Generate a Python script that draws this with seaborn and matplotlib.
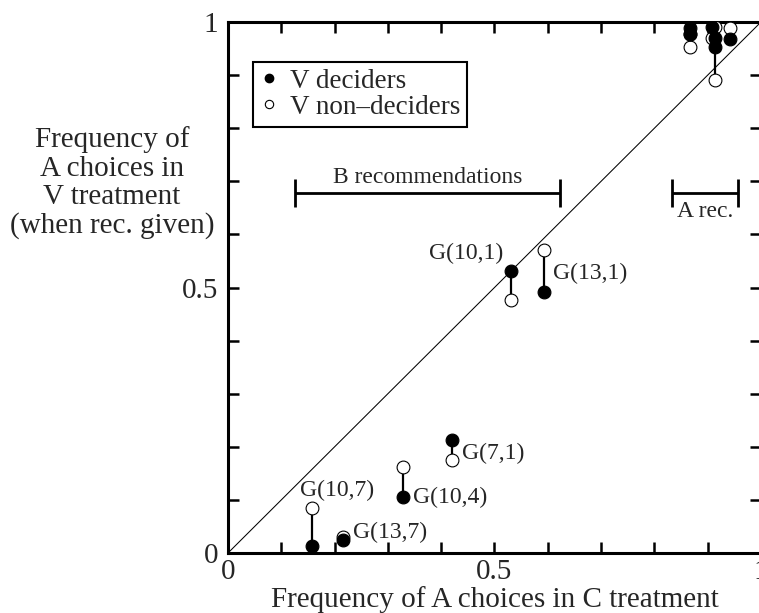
import numpy as np
import pandas as pd
import matplotlib
matplotlib.use("Agg")
import matplotlib.pyplot as plt
from matplotlib.lines import Line2D
from matplotlib.ticker import MultipleLocator
import seaborn as sns

# ---------------- data ----------------
groups = ["G(10,7)", "G(13,7)", "G(10,4)", "G(7,1)", "G(10,1)", "G(13,1)",
          "A1", "A2", "A3", "A4", "A5", "A6"]
c_freq = [0.157, 0.215, 0.328, 0.420, 0.531, 0.592,
          0.867, 0.867, 0.908, 0.914, 0.914, 0.942]
v_deciders = [0.014, 0.025, 0.106, 0.213, 0.531, 0.491,
              0.989, 0.977, 0.991, 0.970, 0.953, 0.968]
v_nondeciders = [0.084, 0.031, 0.162, 0.176, 0.476, 0.571,
                 0.953, 0.977, 0.970, 0.991, 0.891, 0.989]

rec_labels = ["B recommendations", "A rec."]
rec_lo = [0.126, 0.833]
rec_hi = [0.623, 0.957]
rec_level = [0.678, 0.678]

x_ticks = [0, 0.5, 1]
x_ticklabels = ["0", "0.5", "1"]
y_ticks = [0, 0.5, 1]
y_ticklabels = ["0", "0.5", "1"]

df = pd.DataFrame({"group": groups, "c": c_freq,
                   "dec": v_deciders, "non": v_nondeciders})

# ---------------- style ----------------
sns.set_style("ticks")
plt.rcParams["font.family"] = ["Liberation Serif", "DejaVu Serif"]

fig = plt.figure(figsize=(7.59, 6.13), dpi=100)
ax = fig.add_axes([228 / 759, 60 / 613, 533 / 759, 531 / 613])

# diagonal
ax.plot([0, 1], [0, 1], color="black", lw=0.75, zorder=1)

# connecting lines
ax.vlines(df["c"], df["dec"], df["non"], colors="black", lw=1.6, zorder=2)

# points
sns.scatterplot(data=df, x="c", y="non", ax=ax, s=85, color="white",
                edgecolor="black", linewidth=0.8, zorder=3, legend=False)
sns.scatterplot(data=df, x="c", y="dec", ax=ax, s=85, color="black",
                edgecolor="black", linewidth=0.8, zorder=4, legend=False)

# group labels (layout offsets)
label_layout = {
    "G(10,7)": (0.2045, 0.1186, "center"),
    "G(13,7)": (0.2345, 0.0395, "left"),
    "G(10,4)": (0.347, 0.1055, "left"),
    "G(7,1)": (0.439, 0.188, "left"),
    "G(10,1)": (0.516, 0.565, "right"),
    "G(13,1)": (0.610, 0.527, "left"),
}
for g in groups:
    if g in label_layout:
        lx, ly, ha = label_layout[g]
        ax.text(lx, ly, g, ha=ha, va="center", fontsize=17, zorder=5)

# recommendation ranges
centers = [(lo + hi) / 2 for lo, hi in zip(rec_lo, rec_hi)]
halfw = [(hi - lo) / 2 for lo, hi in zip(rec_lo, rec_hi)]
ax.errorbar(centers, rec_level, xerr=halfw, fmt="none", ecolor="black",
            elinewidth=2.0, capsize=10, capthick=2.0, zorder=2)
ax.text(centers[0], rec_level[0] + 0.019, rec_labels[0], ha="center",
        va="baseline", fontsize=17)
ax.text(centers[1], rec_level[1] - 0.045, rec_labels[1], ha="center",
        va="baseline", fontsize=17)

# axes
ax.set_xlim(0, 1)
ax.set_ylim(0, 1)
ax.set_xticks(x_ticks)
ax.set_xticklabels(x_ticklabels)
ax.set_yticks(y_ticks)
ax.set_yticklabels(y_ticklabels)
ax.xaxis.set_minor_locator(MultipleLocator(0.1))
ax.yaxis.set_minor_locator(MultipleLocator(0.1))
ax.tick_params(which="both", direction="in", length=8, width=1.8,
               top=True, right=True, labelsize=21, color="black")
ax.tick_params(axis="x", pad=4)
ax.tick_params(axis="y", pad=7)
for sp in ax.spines.values():
    sp.set_visible(True)
    sp.set_linewidth(2.2)
    sp.set_color("black")

ax.set_xlabel("Frequency of A choices in C treatment", fontsize=21)
ax.xaxis.label.set_va("center")
ax.xaxis.set_label_coords(0.5, -0.088)
ax.set_ylabel("Frequency of\nA choices in\nV treatment\n(when rec. given)",
              fontsize=21, rotation=0, ha="center", va="center", linespacing=1.12)
ax.yaxis.set_label_coords(-0.218, 0.697)

handles = [
    Line2D([], [], marker="o", ls="none", mfc="black", mec="black", ms=6,
           label="V deciders"),
    Line2D([], [], marker="o", ls="none", mfc="white", mec="black", ms=6,
           mew=0.8, label="V non\u2013deciders"),
]
leg = ax.legend(handles=handles, loc="upper left", bbox_to_anchor=(0.047, 0.925),
                fontsize=19.5, frameon=True, fancybox=False, edgecolor="black",
                framealpha=1, borderpad=0.25, handlelength=0.7,
                handletextpad=0.4, labelspacing=0.05, borderaxespad=0)
leg.get_frame().set_linewidth(1.5)

fig.savefig("out.png", dpi=100)
